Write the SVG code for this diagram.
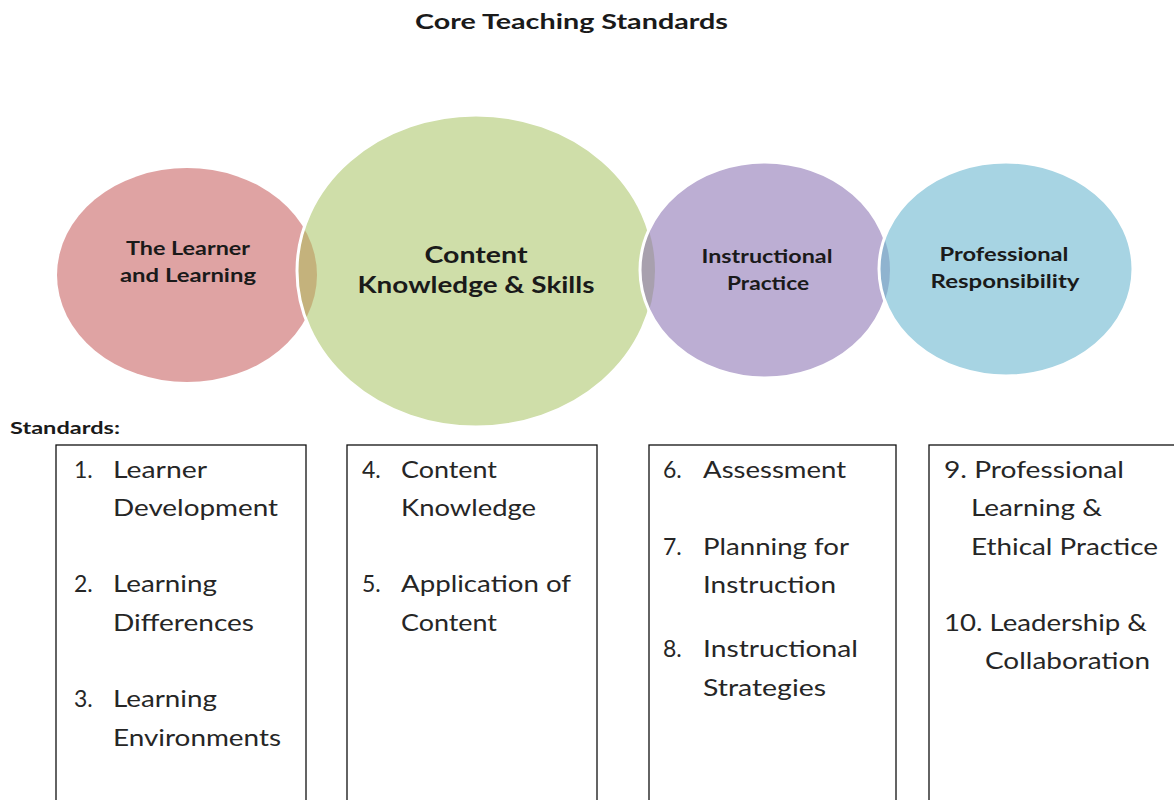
<svg xmlns="http://www.w3.org/2000/svg" width="1174" height="800" viewBox="0 0 1174 800">
<style>
.ttl{font-family:Lato,"Open Sans","Liberation Sans",sans-serif;font-weight:bold;fill:#1a1a1a}
.lbl{font-family:Lato,"Open Sans","Liberation Sans",sans-serif;font-weight:bold;fill:#1a1a1a;text-anchor:middle}
.itm{font-family:Lato,"Open Sans","Liberation Sans",sans-serif;font-size:23px;fill:#262626}
.box{fill:none;stroke:#111;stroke-width:1.3}
.ring{fill:none;stroke:#fff;stroke-width:3}
</style>
<defs>
<clipPath id="cRed"><ellipse cx="187" cy="275" rx="130" ry="107"/></clipPath>
<clipPath id="cGreen"><ellipse cx="476" cy="271" rx="179" ry="156"/></clipPath>
<clipPath id="cPurple"><ellipse cx="765" cy="270" rx="125" ry="108"/></clipPath>
</defs>
<rect width="1174" height="800" fill="#fff"/>
<text class="ttl" x="415" y="29" font-size="21" textLength="313" lengthAdjust="spacingAndGlyphs">Core Teaching Standards</text>

<g id="circle-learner">
<ellipse cx="187" cy="275" rx="130" ry="107" fill="#dfa3a3"/>
<text class="lbl" x="188" y="255" font-size="19" textLength="124" lengthAdjust="spacingAndGlyphs">The Learner</text>
<text class="lbl" x="188" y="282" font-size="19" textLength="136" lengthAdjust="spacingAndGlyphs">and Learning</text>
</g>
<g id="circle-content">
<ellipse cx="476" cy="271" rx="179" ry="156" style="fill:#cfdea9"/>
<ellipse cx="476" cy="271" rx="179" ry="156" fill="#c4b27c" clip-path="url(#cRed)"/>
<ellipse cx="476" cy="271" rx="179" ry="156" class="ring"/>
<text class="lbl" x="476" y="263" font-size="22" textLength="103" lengthAdjust="spacingAndGlyphs">Content</text>
<text class="lbl" x="476" y="293" font-size="22" textLength="237" lengthAdjust="spacingAndGlyphs">Knowledge &amp; Skills</text>
</g>
<g id="circle-instructional">
<ellipse cx="765" cy="270" rx="125" ry="108" style="fill:#bcaed3"/>
<ellipse cx="765" cy="270" rx="125" ry="108" fill="#a8a0ae" clip-path="url(#cGreen)"/>
<ellipse cx="765" cy="270" rx="125" ry="108" class="ring"/>
<text class="lbl" x="767" y="263" font-size="18" textLength="131" lengthAdjust="spacingAndGlyphs">Instructional</text>
<text class="lbl" x="768" y="290" font-size="18" textLength="82" lengthAdjust="spacingAndGlyphs">Practice</text>
</g>
<g id="circle-professional">
<ellipse cx="1006" cy="269" rx="127" ry="107" style="fill:#a7d4e3"/>
<ellipse cx="1006" cy="269" rx="127" ry="107" fill="#8fb3cf" clip-path="url(#cPurple)"/>
<ellipse cx="1006" cy="269" rx="127" ry="107" class="ring"/>
<text class="lbl" x="1004" y="261" font-size="18" textLength="129" lengthAdjust="spacingAndGlyphs">Professional</text>
<text class="lbl" x="1005" y="288" font-size="18" textLength="149" lengthAdjust="spacingAndGlyphs">Responsibility</text>
</g>

<text class="ttl" x="10" y="434" font-size="17" textLength="110" lengthAdjust="spacingAndGlyphs">Standards:</text>

<g id="box-1">
<rect class="box" x="56" y="445" width="250" height="370"/>
<text class="itm" x="74" y="478">1.</text><text class="itm" x="113" y="478" textLength="94" lengthAdjust="spacingAndGlyphs">Learner</text>
<text class="itm" x="113" y="516" textLength="165" lengthAdjust="spacingAndGlyphs">Development</text>
<text class="itm" x="74" y="592">2.</text><text class="itm" x="113" y="592" textLength="104" lengthAdjust="spacingAndGlyphs">Learning</text>
<text class="itm" x="113" y="631" textLength="141" lengthAdjust="spacingAndGlyphs">Differences</text>
<text class="itm" x="74" y="707">3.</text><text class="itm" x="113" y="707" textLength="104" lengthAdjust="spacingAndGlyphs">Learning</text>
<text class="itm" x="113" y="746" textLength="168" lengthAdjust="spacingAndGlyphs">Environments</text>
</g>
<g id="box-2">
<rect class="box" x="347" y="445" width="250" height="370"/>
<text class="itm" x="362" y="478">4.</text><text class="itm" x="401" y="478" textLength="96" lengthAdjust="spacingAndGlyphs">Content</text>
<text class="itm" x="401" y="516" textLength="135" lengthAdjust="spacingAndGlyphs">Knowledge</text>
<text class="itm" x="362" y="592">5.</text><text class="itm" x="401" y="592" textLength="170" lengthAdjust="spacingAndGlyphs">Application of</text>
<text class="itm" x="401" y="631" textLength="96" lengthAdjust="spacingAndGlyphs">Content</text>
</g>
<g id="box-3">
<rect class="box" x="649" y="445" width="247" height="370"/>
<text class="itm" x="663" y="478">6.</text><text class="itm" x="703" y="478" textLength="143" lengthAdjust="spacingAndGlyphs">Assessment</text>
<text class="itm" x="663" y="555">7.</text><text class="itm" x="703" y="555" textLength="146" lengthAdjust="spacingAndGlyphs">Planning for</text>
<text class="itm" x="703" y="593" textLength="133" lengthAdjust="spacingAndGlyphs">Instruction</text>
<text class="itm" x="663" y="657">8.</text><text class="itm" x="703" y="657" textLength="155" lengthAdjust="spacingAndGlyphs">Instructional</text>
<text class="itm" x="703" y="696" textLength="123" lengthAdjust="spacingAndGlyphs">Strategies</text>
</g>
<g id="box-4">
<rect class="box" x="929" y="445" width="260" height="370"/>
<text class="itm" x="944" y="478" textLength="180" lengthAdjust="spacingAndGlyphs">9. Professional</text>
<text class="itm" x="971" y="516" textLength="131" lengthAdjust="spacingAndGlyphs">Learning &amp;</text>
<text class="itm" x="971" y="555" textLength="187" lengthAdjust="spacingAndGlyphs">Ethical Practice</text>
<text class="itm" x="944" y="631" textLength="203" lengthAdjust="spacingAndGlyphs">10. Leadership &amp;</text>
<text class="itm" x="985" y="669" textLength="165" lengthAdjust="spacingAndGlyphs">Collaboration</text>
</g>
<g id="connectors"/>
</svg>
